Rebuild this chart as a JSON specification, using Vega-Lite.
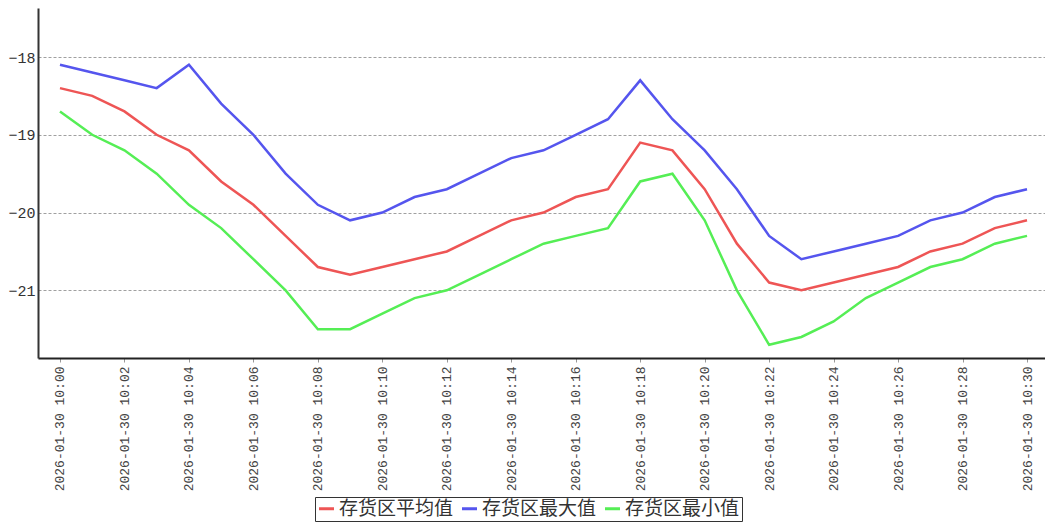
{
  "$schema": "https://vega.github.io/schema/vega-lite/v6.json",
  "autosize": {"type": "none"},
  "padding": {"left": 38, "top": 8, "right": 0, "bottom": 167},
  "width": 1007,
  "height": 350,
  "background": "white",
  "data": {"values": [
    {"t": "2026-01-30 10:00", "存货区平均值": -18.4, "存货区最大值": -18.1, "存货区最小值": -18.7},
    {"t": "2026-01-30 10:01", "存货区平均值": -18.5, "存货区最大值": -18.2, "存货区最小值": -19.0},
    {"t": "2026-01-30 10:02", "存货区平均值": -18.7, "存货区最大值": -18.3, "存货区最小值": -19.2},
    {"t": "2026-01-30 10:03", "存货区平均值": -19.0, "存货区最大值": -18.4, "存货区最小值": -19.5},
    {"t": "2026-01-30 10:04", "存货区平均值": -19.2, "存货区最大值": -18.1, "存货区最小值": -19.9},
    {"t": "2026-01-30 10:05", "存货区平均值": -19.6, "存货区最大值": -18.6, "存货区最小值": -20.2},
    {"t": "2026-01-30 10:06", "存货区平均值": -19.9, "存货区最大值": -19.0, "存货区最小值": -20.6},
    {"t": "2026-01-30 10:07", "存货区平均值": -20.3, "存货区最大值": -19.5, "存货区最小值": -21.0},
    {"t": "2026-01-30 10:08", "存货区平均值": -20.7, "存货区最大值": -19.9, "存货区最小值": -21.5},
    {"t": "2026-01-30 10:09", "存货区平均值": -20.8, "存货区最大值": -20.1, "存货区最小值": -21.5},
    {"t": "2026-01-30 10:10", "存货区平均值": -20.7, "存货区最大值": -20.0, "存货区最小值": -21.3},
    {"t": "2026-01-30 10:11", "存货区平均值": -20.6, "存货区最大值": -19.8, "存货区最小值": -21.1},
    {"t": "2026-01-30 10:12", "存货区平均值": -20.5, "存货区最大值": -19.7, "存货区最小值": -21.0},
    {"t": "2026-01-30 10:13", "存货区平均值": -20.3, "存货区最大值": -19.5, "存货区最小值": -20.8},
    {"t": "2026-01-30 10:14", "存货区平均值": -20.1, "存货区最大值": -19.3, "存货区最小值": -20.6},
    {"t": "2026-01-30 10:15", "存货区平均值": -20.0, "存货区最大值": -19.2, "存货区最小值": -20.4},
    {"t": "2026-01-30 10:16", "存货区平均值": -19.8, "存货区最大值": -19.0, "存货区最小值": -20.3},
    {"t": "2026-01-30 10:17", "存货区平均值": -19.7, "存货区最大值": -18.8, "存货区最小值": -20.2},
    {"t": "2026-01-30 10:18", "存货区平均值": -19.1, "存货区最大值": -18.3, "存货区最小值": -19.6},
    {"t": "2026-01-30 10:19", "存货区平均值": -19.2, "存货区最大值": -18.8, "存货区最小值": -19.5},
    {"t": "2026-01-30 10:20", "存货区平均值": -19.7, "存货区最大值": -19.2, "存货区最小值": -20.1},
    {"t": "2026-01-30 10:21", "存货区平均值": -20.4, "存货区最大值": -19.7, "存货区最小值": -21.0},
    {"t": "2026-01-30 10:22", "存货区平均值": -20.9, "存货区最大值": -20.3, "存货区最小值": -21.7},
    {"t": "2026-01-30 10:23", "存货区平均值": -21.0, "存货区最大值": -20.6, "存货区最小值": -21.6},
    {"t": "2026-01-30 10:24", "存货区平均值": -20.9, "存货区最大值": -20.5, "存货区最小值": -21.4},
    {"t": "2026-01-30 10:25", "存货区平均值": -20.8, "存货区最大值": -20.4, "存货区最小值": -21.1},
    {"t": "2026-01-30 10:26", "存货区平均值": -20.7, "存货区最大值": -20.3, "存货区最小值": -20.9},
    {"t": "2026-01-30 10:27", "存货区平均值": -20.5, "存货区最大值": -20.1, "存货区最小值": -20.7},
    {"t": "2026-01-30 10:28", "存货区平均值": -20.4, "存货区最大值": -20.0, "存货区最小值": -20.6},
    {"t": "2026-01-30 10:29", "存货区平均值": -20.2, "存货区最大值": -19.8, "存货区最小值": -20.4},
    {"t": "2026-01-30 10:30", "存货区平均值": -20.1, "存货区最大值": -19.7, "存货区最小值": -20.3}
  ]},
  "transform": [
    {"fold": ["存货区平均值", "存货区最大值", "存货区最小值"], "as": ["series", "value"]}
  ],
  "mark": {"type": "line", "strokeWidth": 2.5},
  "encoding": {
    "x": {
      "field": "t",
      "type": "ordinal",
      "sort": null,
      "scale": {"type": "point", "padding": 0.62, "align": 0.55},
      "axis": {
        "title": null,
        "values": ["2026-01-30 10:00", "2026-01-30 10:02", "2026-01-30 10:04", "2026-01-30 10:06", "2026-01-30 10:08", "2026-01-30 10:10", "2026-01-30 10:12", "2026-01-30 10:14", "2026-01-30 10:16", "2026-01-30 10:18", "2026-01-30 10:20", "2026-01-30 10:22", "2026-01-30 10:24", "2026-01-30 10:26", "2026-01-30 10:28", "2026-01-30 10:30"],
        "labelAngle": -90,
        "labelFont": "Liberation Mono",
        "labelFontSize": 13,
        "labelColor": "#444",
        "labelPadding": 4,
        "labelLimit": 200,
        "domainColor": "#222",
        "domainWidth": 2,
        "tickColor": "#999",
        "tickSize": 4,
        "grid": false
      }
    },
    "y": {
      "field": "value",
      "type": "quantitative",
      "scale": {"domain": [-21.87, -17.37], "nice": false, "zero": false},
      "axis": {
        "title": null,
        "values": [-21, -20, -19, -18],
        "format": "d",
        "labelFont": "Liberation Mono",
        "labelFontSize": 15,
        "labelColor": "#333",
        "labelPadding": 3,
        "ticks": false,
        "domainColor": "#333",
        "domainWidth": 2,
        "grid": true,
        "gridColor": "#888",
        "gridDash": [3, 2],
        "gridWidth": 0.8
      }
    },
    "color": {
      "field": "series",
      "type": "nominal",
      "scale": {
        "domain": ["存货区平均值", "存货区最大值", "存货区最小值"],
        "range": ["#ee5555", "#5555ee", "#55ee55"]
      },
      "legend": {
        "title": null,
        "orient": "none",
        "legendX": 277,
        "legendY": 489,
        "direction": "horizontal",
        "symbolType": "stroke",
        "symbolStrokeWidth": 3,
        "symbolSize": 225,
        "labelFont": "Noto Sans CJK SC",
        "labelFontSize": 19,
        "labelColor": "#333",
        "labelOffset": 3,
        "columnPadding": 2,
        "strokeColor": "#333",
        "padding": 2
      }
    }
  },
  "config": {"view": {"stroke": null}}
}
